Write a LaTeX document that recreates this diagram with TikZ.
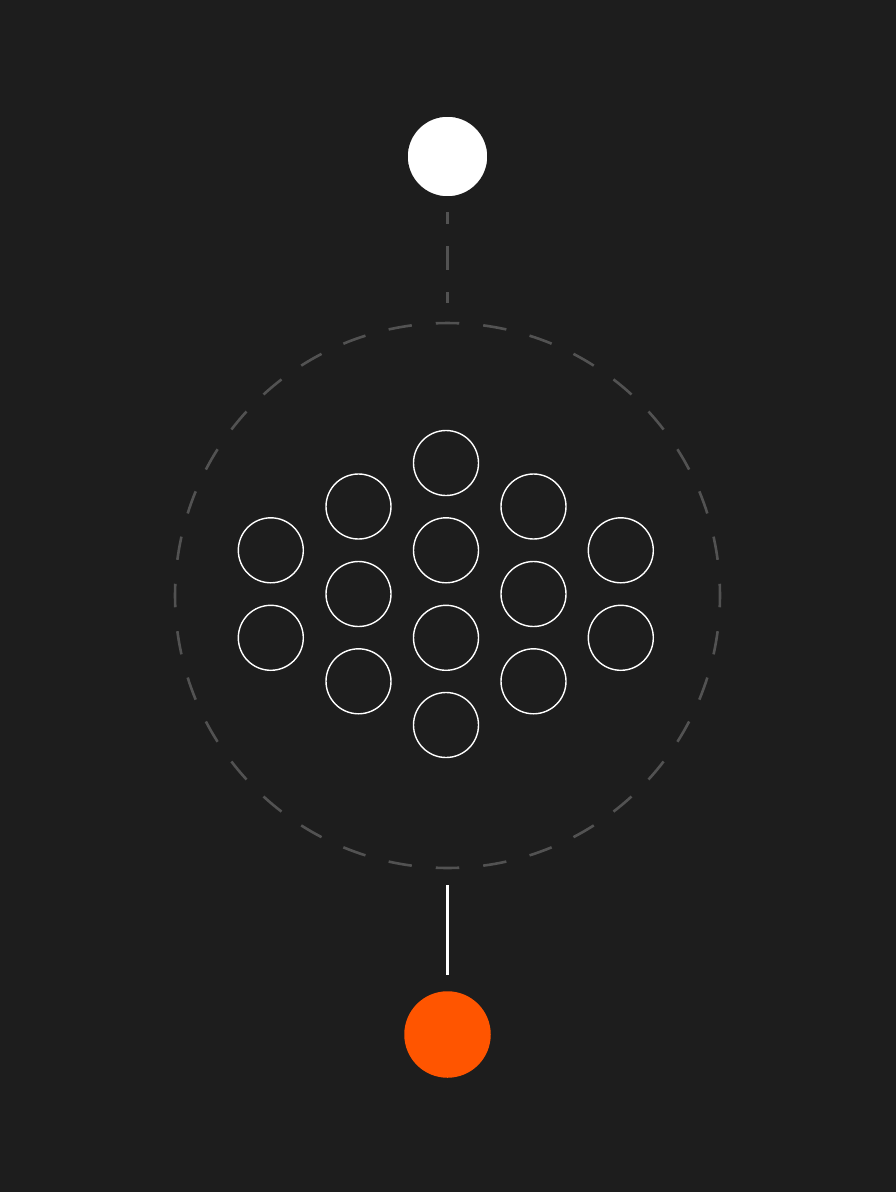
\documentclass[tikz,border=0pt]{standalone}
\usetikzlibrary{calc}
\definecolor{bg}{HTML}{1D1D1D}
\definecolor{dashgray}{HTML}{525252}
\definecolor{accent}{HTML}{FF5500}
\tikzset{
  dot/.style={circle, draw=white, line width=1.4pt, inner sep=0pt, minimum size=65pt},
  graydash/.style={draw=dashgray, line width=2.6pt, line cap=butt},
}
\begin{document}
\begin{tikzpicture}[x=1pt, y=-1pt]
\fill[bg] (0,0) rectangle (896,1192);
\useasboundingbox (0,0) rectangle (896,1192);
% top white disc
\node[circle, fill=white, draw=bg, line width=1.5pt, inner sep=0pt, minimum size=81pt] (top) at (447.5,156.5) {};
% big dashed ring
\coordinate (ring) at (447.5,595.5);
\foreach \a in {0,10,...,350}{
  \draw[graydash] ($(ring)+({\a-2.47}:272.5)$) arc[start angle=\a-2.47, end angle=\a+2.47, radius=272.5];
}
\coordinate (ringtop) at (447.5,303);
\coordinate (topend) at (447.5,212);
\draw[graydash, dash pattern=on 24pt off 22pt, dash phase=12pt] (topend) -- (ringtop);
% bottom orange disc
\node[circle, fill=accent, inner sep=0pt, minimum size=86.5pt] (bottom) at (447.5,1034.5) {};
\coordinate (lnA) at (447.5,885);
\coordinate (lnB) at (447.5,975);
\draw[white, line width=2.4pt] (lnA) -- (lnB);
% grid of circles
\node[dot] (c11) at (270.8,550.3) {};
\node[dot] (c12) at (270.8,637.8) {};
\node[dot] (c21) at (358.5,506.5) {};
\node[dot] (c22) at (358.5,594) {};
\node[dot] (c23) at (358.5,681.3) {};
\node[dot] (c31) at (446,463) {};
\node[dot] (c32) at (446,550.3) {};
\node[dot] (c33) at (446,637.8) {};
\node[dot] (c34) at (446,725) {};
\node[dot] (c41) at (533.5,506.5) {};
\node[dot] (c42) at (533.5,594) {};
\node[dot] (c43) at (533.5,681.3) {};
\node[dot] (c51) at (620.8,550.3) {};
\node[dot] (c52) at (620.8,637.8) {};
\end{tikzpicture}
\end{document}
